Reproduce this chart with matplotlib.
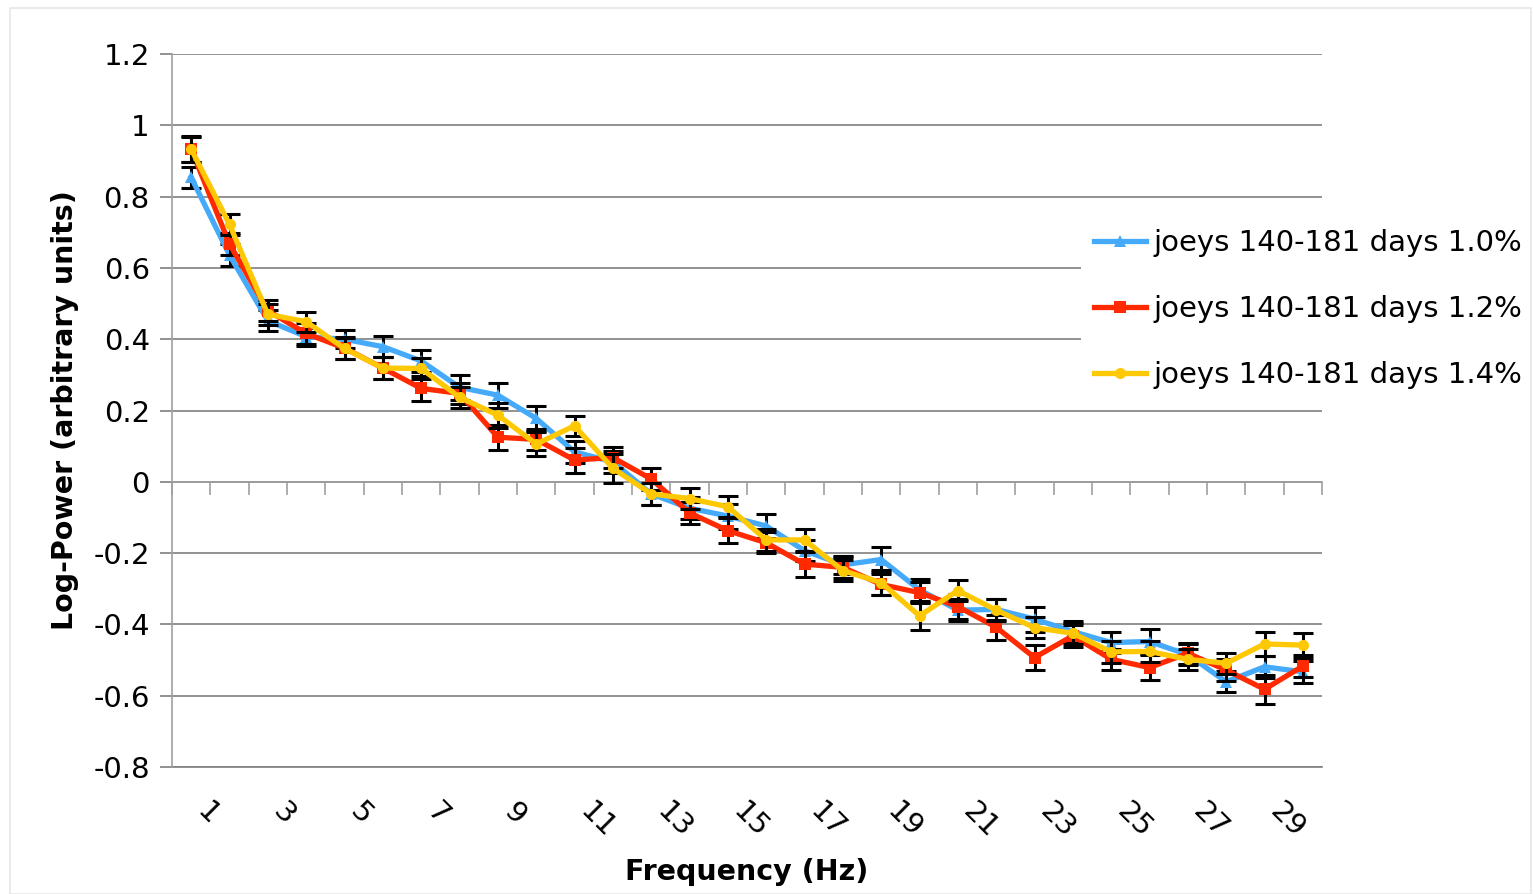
import numpy as np
import matplotlib
matplotlib.use("Agg")
import matplotlib.pyplot as plt
from matplotlib.patches import Rectangle

# Frequency bins (Hz)
freqs = list(range(1, 31))
tick_freqs = list(range(1, 30, 2))

labels = ["joeys 140-181 days 1.0%", "joeys 140-181 days 1.2%", "joeys 140-181 days 1.4%"]

power_10 = [0.854, 0.636, 0.452, 0.407, 0.400, 0.379, 0.339, 0.265, 0.243, 0.178,
            0.084, 0.056, -0.034, -0.074, -0.096, -0.124, -0.193, -0.233, -0.218, -0.303,
            -0.360, -0.358, -0.385, -0.420, -0.451, -0.448, -0.485, -0.561, -0.519, -0.533]
power_12 = [0.933, 0.667, 0.480, 0.416, 0.375, 0.319, 0.262, 0.248, 0.125, 0.119,
            0.061, 0.068, 0.008, -0.087, -0.137, -0.171, -0.231, -0.240, -0.288, -0.311,
            -0.350, -0.408, -0.493, -0.432, -0.498, -0.521, -0.481, -0.528, -0.582, -0.517]
power_14 = [0.933, 0.722, 0.470, 0.449, 0.374, 0.319, 0.318, 0.237, 0.187, 0.106,
            0.157, 0.038, -0.034, -0.047, -0.070, -0.163, -0.163, -0.249, -0.283, -0.376,
            -0.305, -0.360, -0.409, -0.425, -0.477, -0.476, -0.498, -0.509, -0.455, -0.458]

err_10 = [0.030, 0.030, 0.030, 0.025, 0.025, 0.030, 0.030, 0.035, 0.035, 0.035,
          0.030, 0.030, 0.030, 0.030, 0.035, 0.035, 0.030, 0.025, 0.035, 0.030,
          0.030, 0.030, 0.035, 0.030, 0.030, 0.035, 0.030, 0.030, 0.030, 0.030]
err_12 = [0.035, 0.030, 0.030, 0.030, 0.030, 0.030, 0.035, 0.030, 0.035, 0.030,
          0.035, 0.030, 0.030, 0.030, 0.035, 0.030, 0.035, 0.030, 0.030, 0.030,
          0.035, 0.035, 0.035, 0.030, 0.030, 0.035, 0.030, 0.030, 0.040, 0.030]
err_14 = [0.037, 0.030, 0.030, 0.028, 0.030, 0.030, 0.030, 0.030, 0.035, 0.035,
          0.028, 0.040, 0.030, 0.030, 0.030, 0.030, 0.030, 0.030, 0.035, 0.040,
          0.030, 0.030, 0.030, 0.030, 0.030, 0.030, 0.030, 0.030, 0.035, 0.035]

colors = ["#45AAFA", "#FF2A00", "#FFC805"]
markers = ["^", "s", "o"]

plt.rcParams['font.family'] = ['DejaVu Sans']

fig = plt.figure(figsize=(15.33, 8.94), dpi=100)
fig.patches.append(Rectangle((10 / 1533, 0.0), 1521 / 1533, 1 - 8 / 894,
                             transform=fig.transFigure, fill=False,
                             edgecolor="#e6e6e6", linewidth=1.2))

ax = fig.add_axes([172 / 1533, 1 - 767 / 894, 1150 / 1533, 713 / 894])

x = np.array(freqs)
series = [(power_10, err_10), (power_12, err_12), (power_14, err_14)]
for i, (vals, errs) in enumerate(series):
    ax.errorbar(x, vals, yerr=errs, fmt="none", ecolor="black", elinewidth=2.2,
                capsize=7, capthick=2.2, zorder=3 + i * 2)
    ax.plot(x, vals, color=colors[i], linewidth=3.8, marker=markers[i],
            markersize=8, markeredgewidth=0, label=labels[i], zorder=4 + i * 2)

ax.set_xlim(0.5, 30.5)
ax.set_ylim(-0.8, 1.2)
ax.set_yticks(np.arange(-0.8, 1.21, 0.2))
ax.set_yticklabels(["-0.8", "-0.6", "-0.4", "-0.2", "0", "0.2", "0.4", "0.6", "0.8", "1", "1.2"])
ax.grid(axis="y", color="#7f7f7f", linewidth=1.2, zorder=0)
ax.set_axisbelow(True)
ax.tick_params(axis="y", length=9, width=1.2, color="#7f7f7f", labelsize=21, pad=7)

# category axis at zero with boundary ticks
ax.spines["bottom"].set_position(("data", 0))
ax.spines["bottom"].set_color("#a0a0a0")
ax.spines["bottom"].set_linewidth(1.2)
ax.set_xticks(np.arange(0.5, 31, 1.0))
ax.tick_params(axis="x", length=9, width=1.2, color="#a0a0a0", labelbottom=False)
ax.spines["left"].set_color("#a0a0a0")
ax.spines["left"].set_linewidth(1.2)
ax.spines["top"].set_visible(False)
ax.spines["right"].set_visible(False)

# category labels along the bottom
sec = ax.secondary_xaxis(0)
sec.set_xticks(tick_freqs)
sec.set_xticklabels([str(t) for t in tick_freqs], rotation=-45, ha="left", va="top",
                    fontsize=21)
sec.tick_params(axis="x", length=0, pad=22)
sec.spines["bottom"].set_color("#7f7f7f")
sec.spines["bottom"].set_linewidth(1.2)

ax.set_ylabel("Log-Power (arbitrary units)", fontsize=20.5, fontweight="bold", labelpad=10)
fig.text(747 / 1533, 1 - 872 / 894, "Frequency (Hz)", fontsize=20.5, fontweight="bold",
         ha="center", va="center")

leg = ax.legend(loc="center left", bbox_to_anchor=(1066 / 1533, 1 - 309 / 894),
                bbox_transform=fig.transFigure, frameon=True, fontsize=21,
                handlelength=1.8, handletextpad=0.25, labelspacing=1.3,
                borderpad=0.45, fancybox=False)
leg.get_frame().set_facecolor("white")
leg.get_frame().set_edgecolor("none")
leg.get_frame().set_alpha(1.0)
leg.set_zorder(20)

fig.savefig("out.png", dpi=100)
